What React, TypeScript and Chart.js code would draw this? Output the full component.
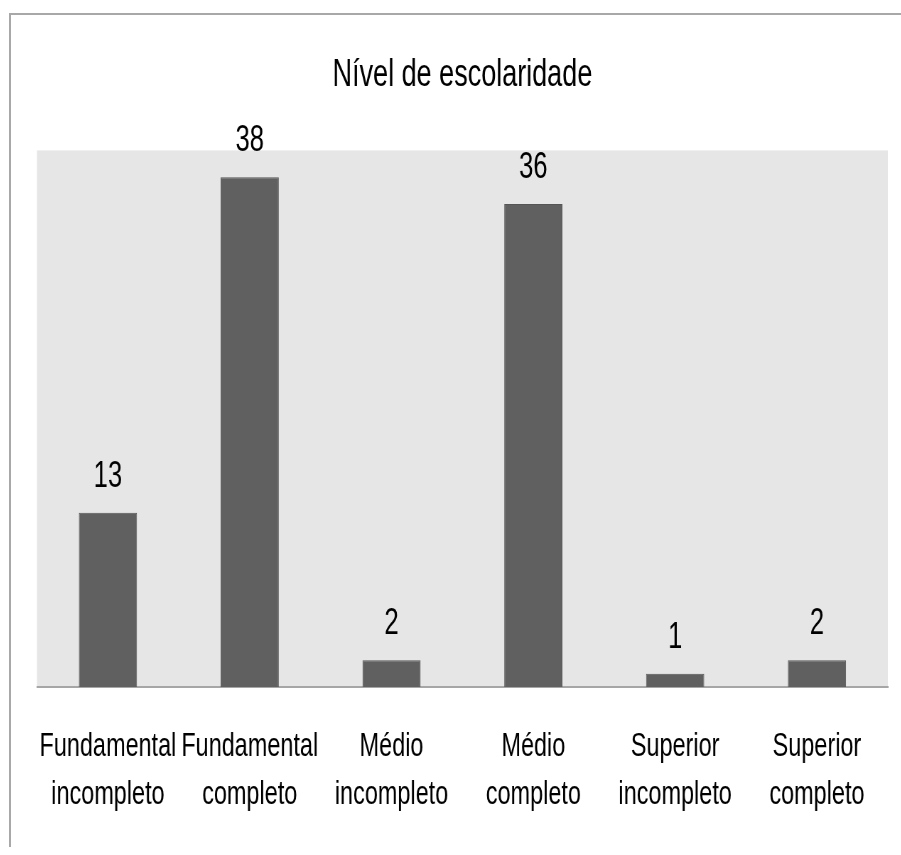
import React, { useEffect, useRef } from "react";
import { Chart, registerables } from "chart.js";

Chart.register(...registerables);

const titleText = "Nível de escolaridade";
const categories: string[][] = [
  ["Fundamental", "incompleto"],
  ["Fundamental", "completo"],
  ["Médio", "incompleto"],
  ["Médio", "completo"],
  ["Superior", "incompleto"],
  ["Superior", "completo"],
];
const values: number[] = [13, 38, 2, 36, 1, 2];
const yMin = 0;
const yMax = 40;

const FONT = "'Liberation Sans', Arial, sans-serif";
const SQUEEZE = 0.71;

const plotBg = {
  id: "plotBg",
  beforeDraw(chart: any) {
    const { ctx, chartArea } = chart;
    ctx.save();
    ctx.fillStyle = "#ffffff";
    ctx.fillRect(0, 0, chart.width, chart.height);
    ctx.fillStyle = "#e6e6e6";
    ctx.fillRect(chartArea.left, chartArea.top, chartArea.right - chartArea.left, chartArea.bottom - chartArea.top);
    ctx.restore();
  },
};

const valueLabels = {
  id: "valueLabels",
  afterDatasetsDraw(chart: any) {
    const { ctx } = chart;
    const meta = chart.getDatasetMeta(0);
    ctx.save();
    ctx.fillStyle = "#000000";
    ctx.font = `36px ${FONT}`;
    ctx.textAlign = "center";
    ctx.textBaseline = "alphabetic";
    meta.data.forEach((bar: any, i: number) => {
      ctx.fillText(String(chart.data.datasets[0].data[i]), bar.x, bar.y - 26);
    });
    ctx.restore();
  },
};

export default function App() {
  const ref = useRef<HTMLCanvasElement | null>(null);
  useEffect(() => {
    if (!ref.current) return;
    const chart = new Chart(ref.current, {
      type: "bar",
      data: {
        labels: categories,
        datasets: [
          {
            data: values,
            backgroundColor: "#606060",
            borderColor: "#555555",
            borderWidth: 1,
            barPercentage: 0.41,
            categoryPercentage: 1,
          },
        ],
      },
      options: {
        animation: false,
        responsive: true,
        maintainAspectRatio: false,
        layout: { padding: { left: 36.6, right: 19.5, top: 0, bottom: 0 } },
        plugins: {
          legend: { display: false },
          tooltip: { enabled: false },
          title: {
            display: true,
            text: titleText,
            color: "#000000",
            font: { family: FONT, size: 38, weight: "normal", lineHeight: 1.2 },
            padding: { top: 37.5, bottom: 52.3 },
          },
        },
        scales: {
          x: {
            grid: { display: false },
            border: { display: true, color: "#a6a6a6", width: 2 },
            ticks: {
              color: "#000000",
              font: { family: FONT, size: 33, lineHeight: 1.45 },
              padding: 28.1,
              autoSkip: false,
              maxRotation: 0,
              minRotation: 0,
            },
          },
          y: {
            display: false,
            min: yMin,
            max: yMax,
          },
        },
      },
      plugins: [plotBg, valueLabels],
    });
    return () => chart.destroy();
  }, []);

  return (
    <div
      style={{
        position: "absolute",
        left: 9,
        top: 13,
        width: 890,
        height: 832,
        borderLeft: "2px solid #a8a8a8",
        borderTop: "2px solid #a8a8a8",
        overflow: "hidden",
        background: "#ffffff",
      }}
    >
      <div
        style={{
          position: "relative",
          width: 1253.5,
          height: 832,
          transform: `scaleX(${SQUEEZE})`,
          transformOrigin: "0 0",
        }}
      >
        <canvas ref={ref} />
      </div>
    </div>
  );
}
